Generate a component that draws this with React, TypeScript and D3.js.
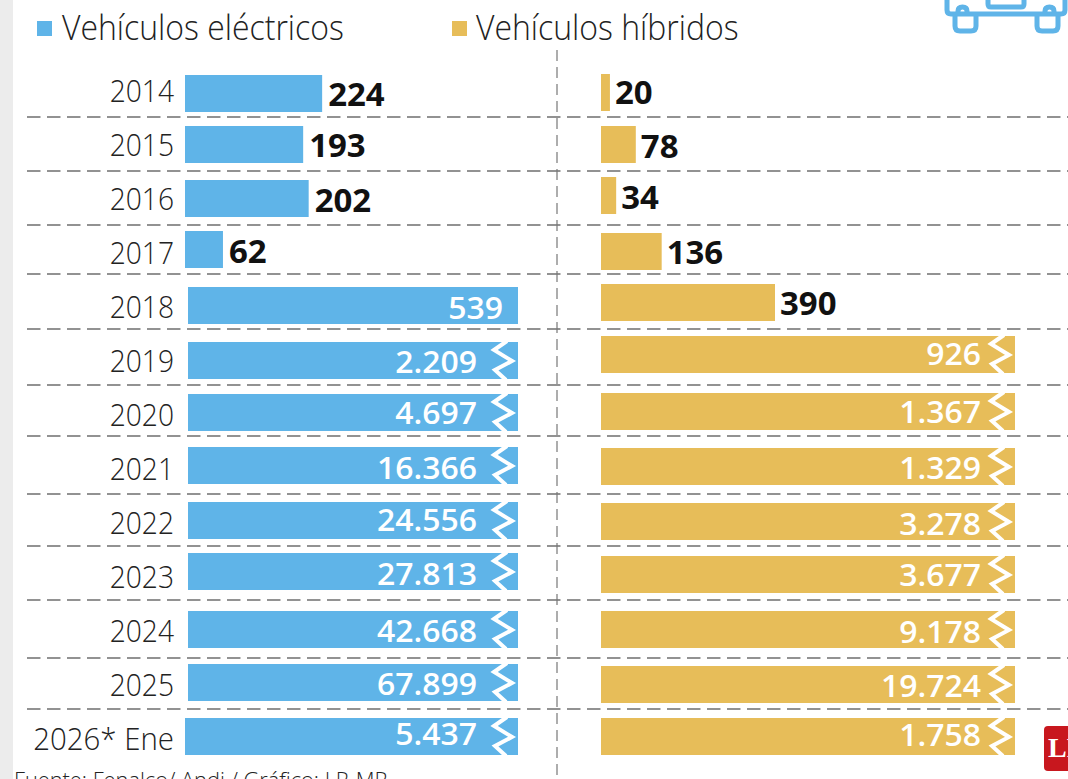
import React from "react";
import * as d3 from "d3";

const years = ["2014","2015","2016","2017","2018","2019","2020","2021","2022","2023","2024","2025","2026* Ene"];
const electricos = [224,193,202,62,539,2209,4697,16366,24556,27813,42668,67899,5437];
const hibridos = [20,78,34,136,390,926,1367,1329,3278,3677,9178,19724,1758];

// Hand-set layout of the source graphic (rows are not evenly spaced there)
const leftTops = [75,126,180,231,287,342,394,447,502,553,611,664,718];
const rightTops = [74,126,177,233,284,336,393,448,503,556,611,666,718];
const leftBase = [106,157,212,263,319,373,424,479,531,585,642,695,745];
const rightBase = [104,158,209,264,315,365,423,479,535,586,643,697,746];
const ruleYs = [117,171,225,274,329,385,436,494,546,600,658,709];
const leftStarts = [185,185,185,185,188,188,188,188,188,188,188,188,185];

const BLUE = "#5fb4e8";
const GOLD = "#e7bd59";
const FONT = "'Open Sans', sans-serif";
const fmt = (v: number) => d3.format(",")(v).replace(/,/g, ".");

const barH = 37;
const CAP_E = 539;
const CAP_H = 390;
const xE = d3.scaleLinear().domain([0, CAP_E]).range([0, 330]);
const xH = d3.scaleLinear().domain([0, CAP_H]).range([0, 174]);
const yLeft = d3.scaleOrdinal<string, number>().domain(years).range(leftTops);
const yRight = d3.scaleOrdinal<string, number>().domain(years).range(rightTops);
const yLabel = d3.scalePoint<string>().domain(years).range([102, 750]);
const EDGE_H = 1015;
const EDGE_E = 518;
const H0 = 601;

function T({ x, y, s, size, weight = 400, fill = "#222", anchor = "start", sx = 0.88 }: any) {
  return (
    <text transform={`translate(${x},${y}) scale(${sx},1)`} fontFamily={FONT} fontSize={size} fontWeight={weight} fill={fill} textAnchor={anchor}>
      {s}
    </text>
  );
}

function Zig({ right, top }: { right: number; top: number }) {
  const pts: [number, number][] = [
    [right - 11, top - 1],
    [right - 24, top + 8],
    [right - 6, top + 19],
    [right - 23, top + 28],
    [right - 12, top + barH + 1],
  ];
  return <path d={d3.line()(pts) ?? ""} fill="none" stroke="#fff" strokeWidth={4} />;
}

function Row({ i }: { i: number }) {
  const yr = years[i];
  const yl = yLeft(yr);
  const yh = yRight(yr);
  const ve = electricos[i];
  const vh = hibridos[i];
  const x0 = leftStarts[i];
  const eBroken = ve > CAP_E;
  const hBroken = vh > CAP_H;
  const eRight = eBroken ? EDGE_E : x0 + xE(ve);
  const hRight = hBroken ? EDGE_H : H0 + xH(vh);
  return (
    <g>
      <T x={174} y={yLabel(yr)} s={yr} size={32} weight={300} anchor="end" sx={i === 12 ? 0.92 : 0.88} />
      <rect x={x0} y={yl} width={eRight - x0} height={barH} fill={BLUE} />
      {eBroken && <Zig right={eRight} top={yl} />}
      {ve >= CAP_E ? (
        <T x={eBroken ? 477 : 503} y={leftBase[i]} s={fmt(ve)} size={31} weight={600} fill="#fff" anchor="end" sx={1.03} />
      ) : (
        <T x={eRight + 6} y={leftBase[i]} s={fmt(ve)} size={32} weight={700} fill="#111" sx={1.03} />
      )}
      <rect x={H0} y={yh} width={hRight - H0} height={barH} fill={GOLD} />
      {hBroken && <Zig right={hRight} top={yh} />}
      {hBroken ? (
        <T x={981} y={rightBase[i]} s={fmt(vh)} size={31} weight={600} fill="#fff" anchor="end" sx={1.03} />
      ) : (
        <T x={hRight + 5} y={rightBase[i]} s={fmt(vh)} size={32} weight={700} fill="#111" sx={1.03} />
      )}
    </g>
  );
}

export default function App() {
  return (
    <svg width={1068} height={779} style={{ position: "absolute", left: 0, top: 0, background: "#fff" }}>
      <rect x={0} y={0} width={13} height={779} fill="#ececec" />
      <rect x={37} y={21} width={15} height={15} fill={BLUE} />
      <T x={62} y={40} s="Vehículos eléctricos" size={34} weight={300} sx={0.94} />
      <rect x={452} y={21} width={15} height={15} fill={GOLD} />
      <T x={476} y={40} s="Vehículos híbridos" size={34} weight={300} sx={0.94} />

      {ruleYs.map((y) => (
        <line key={y} x1={27} x2={1068} y1={y} y2={y} stroke="#6f6f6f" strokeWidth={1.6} strokeDasharray="13.5 6.5" />
      ))}
      <line x1={557} x2={557} y1={50} y2={779} stroke="#777" strokeWidth={1.2} strokeDasharray="11 6" />

      {years.map((_, i) => <Row key={i} i={i} />)}

      <g fill="none" stroke={BLUE} strokeWidth={5} strokeLinejoin="round">
        <path d="M947,-8 V10 Q947,14 951,14 H1061 Q1065,14 1065,10 V-8" />
        <path d="M988,-4 V4 Q988,7 991,7 H1021 Q1024,7 1024,4 V-4" />
        <path d="M955,16 V26 Q955,31 960,31 H971 Q976,31 976,26 V16" />
        <path d="M1037,16 V26 Q1037,31 1042,31 H1053 Q1058,31 1058,26 V16" />
        <path d="M958,14 V11 Q958,7 962.5,7 Q967,7 967,11 V14" />
        <path d="M1045,14 V11 Q1045,7 1049.5,7 Q1054,7 1054,11 V14" />
      </g>

      <path d="M1048,726 H1068 V771 H1048 Q1044,771 1044,767 V730 Q1044,726 1048,726 Z" fill="#c8171e" />
      <text x={1048} y={757} fontFamily="'Liberation Serif', serif" fontWeight={700} fontSize={28} fill="#fff">LR</text>

      <T x={14} y={788} s="Fuente: Fenalco/ Andi / Gráfico: LR-MR" size={22} weight={300} sx={0.99} />
    </svg>
  );
}
